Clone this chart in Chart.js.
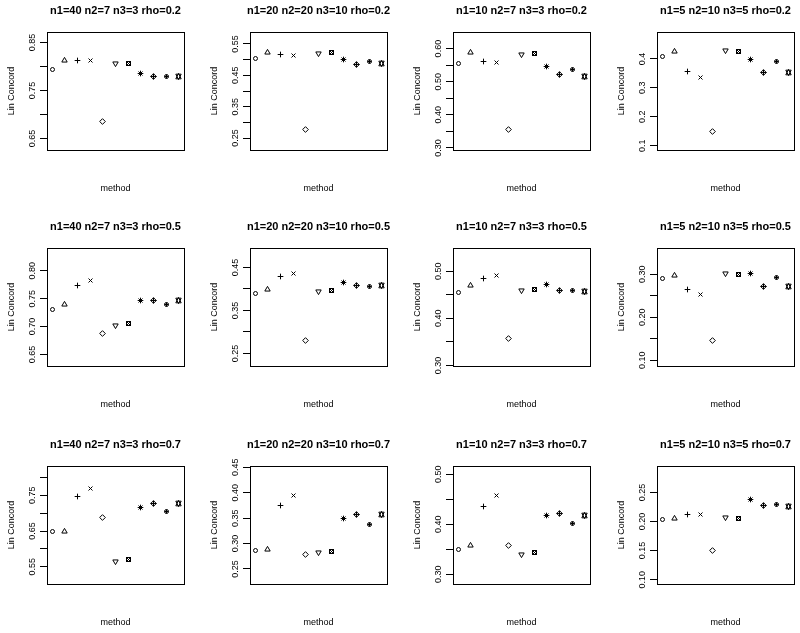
<!DOCTYPE html>
<html>
<head>
<meta charset="utf-8">
<script src="https://cdn.jsdelivr.net/npm/chart.js@4/dist/chart.umd.min.js"></script>
<style>
  body { margin: 0; background: #fff; width: 800px; height: 633px; overflow: hidden; position: relative; }
  canvas { position: absolute; }
</style>
</head>
<body>
<script>
// method index on the x axis (11 methods, no axis labels drawn)
const methods = [1, 2, 3, 4, 5, 6, 7, 8, 9, 10, 11];

const designs = ['n1=40 n2=7 n3=3', 'n1=20 n2=20 n3=10', 'n1=10 n2=7 n3=3', 'n1=5 n2=10 n3=5'];
const rhos = ['0.2', '0.5', '0.7'];

// Lin concordance per method
const n40_rho02 = [0.793, 0.813, 0.812, 0.813, 0.685, 0.806, 0.807, 0.786, 0.780, 0.780, 0.779];
const n20_rho02 = [0.503, 0.523, 0.516, 0.513, 0.276, 0.521, 0.524, 0.500, 0.484, 0.495, 0.487];
const n10_rho02 = [0.556, 0.587, 0.561, 0.558, 0.357, 0.583, 0.584, 0.545, 0.521, 0.536, 0.517];
const n5_rho02  = [0.408, 0.427, 0.358, 0.335, 0.150, 0.428, 0.427, 0.399, 0.353, 0.391, 0.354];

const n40_rho05 = [0.731, 0.740, 0.774, 0.783, 0.687, 0.701, 0.706, 0.746, 0.747, 0.739, 0.746];
const n20_rho05 = [0.390, 0.398, 0.430, 0.435, 0.281, 0.395, 0.397, 0.415, 0.409, 0.405, 0.408];
const n10_rho05 = [0.455, 0.470, 0.485, 0.490, 0.358, 0.458, 0.461, 0.471, 0.459, 0.459, 0.456];
const n5_rho05  = [0.291, 0.298, 0.264, 0.253, 0.147, 0.301, 0.300, 0.301, 0.272, 0.292, 0.272];

const n40_rho07 = [0.649, 0.649, 0.746, 0.770, 0.688, 0.564, 0.569, 0.715, 0.726, 0.704, 0.726];
const n20_rho07 = [0.286, 0.288, 0.374, 0.394, 0.279, 0.282, 0.284, 0.350, 0.358, 0.337, 0.357];
const n10_rho07 = [0.350, 0.357, 0.435, 0.458, 0.357, 0.339, 0.343, 0.417, 0.421, 0.401, 0.418];
const n5_rho07  = [0.2035, 0.205, 0.212, 0.212, 0.150, 0.2075, 0.206, 0.238, 0.228, 0.229, 0.226];

// y tick marks and their labels ('' = tick without label)
const yTicks_n40_rho02 = [0.65, 0.70, 0.75, 0.80, 0.85];
const yLabels_n40_rho02 = ['0.65', '', '0.75', '', '0.85'];
const yTicks_n20_rho02 = [0.25, 0.30, 0.35, 0.40, 0.45, 0.50, 0.55];
const yLabels_n20_rho02 = ['0.25', '', '0.35', '', '0.45', '', '0.55'];
const yTicks_n10_rho02 = [0.30, 0.35, 0.40, 0.45, 0.50, 0.55, 0.60];
const yLabels_n10_rho02 = ['0.30', '', '0.40', '', '0.50', '', '0.60'];
const yTicks_n5_rho02 = [0.1, 0.2, 0.3, 0.4];
const yLabels_n5_rho02 = ['0.1', '0.2', '0.3', '0.4'];

const yTicks_n40_rho05 = [0.65, 0.70, 0.75, 0.80];
const yLabels_n40_rho05 = ['0.65', '0.70', '0.75', '0.80'];
const yTicks_n20_rho05 = [0.25, 0.30, 0.35, 0.40, 0.45];
const yLabels_n20_rho05 = ['0.25', '', '0.35', '', '0.45'];
const yTicks_n10_rho05 = [0.30, 0.35, 0.40, 0.45, 0.50];
const yLabels_n10_rho05 = ['0.30', '', '0.40', '', '0.50'];
const yTicks_n5_rho05 = [0.10, 0.15, 0.20, 0.25, 0.30];
const yLabels_n5_rho05 = ['0.10', '', '0.20', '', '0.30'];

const yTicks_n40_rho07 = [0.55, 0.60, 0.65, 0.70, 0.75, 0.80];
const yLabels_n40_rho07 = ['0.55', '', '0.65', '', '0.75', ''];
const yTicks_n20_rho07 = [0.25, 0.30, 0.35, 0.40, 0.45];
const yLabels_n20_rho07 = ['0.25', '0.30', '0.35', '0.40', '0.45'];
const yTicks_n10_rho07 = [0.30, 0.35, 0.40, 0.45, 0.50];
const yLabels_n10_rho07 = ['0.30', '', '0.40', '', '0.50'];
const yTicks_n5_rho07 = [0.10, 0.15, 0.20, 0.25];
const yLabels_n5_rho07 = ['0.10', '0.15', '0.20', '0.25'];

const panels = [
  [n40_rho02, yTicks_n40_rho02, yLabels_n40_rho02],
  [n20_rho02, yTicks_n20_rho02, yLabels_n20_rho02],
  [n10_rho02, yTicks_n10_rho02, yLabels_n10_rho02],
  [n5_rho02, yTicks_n5_rho02, yLabels_n5_rho02],
  [n40_rho05, yTicks_n40_rho05, yLabels_n40_rho05],
  [n20_rho05, yTicks_n20_rho05, yLabels_n20_rho05],
  [n10_rho05, yTicks_n10_rho05, yLabels_n10_rho05],
  [n5_rho05, yTicks_n5_rho05, yLabels_n5_rho05],
  [n40_rho07, yTicks_n40_rho07, yLabels_n40_rho07],
  [n20_rho07, yTicks_n20_rho07, yLabels_n20_rho07],
  [n10_rho07, yTicks_n10_rho07, yLabels_n10_rho07],
  [n5_rho07, yTicks_n5_rho07, yLabels_n5_rho07]
];

const FONT = '"Liberation Sans", Arial, Helvetica, sans-serif';
const colLeft = [0, 203, 406, 610];
const rowTop = [0, 216, 434];
const W = 200, H = 211;

// R-like plotting symbols pch 1..11 as little sprites
function symbol(pch) {
  const S = 13, c = S / 2, r = 2;
  const cv = document.createElement('canvas');
  cv.width = S; cv.height = S;
  const g = cv.getContext('2d');
  g.strokeStyle = '#000';
  g.lineWidth = 1;
  const line = (x1, y1, x2, y2) => { g.beginPath(); g.moveTo(c + x1, c + y1); g.lineTo(c + x2, c + y2); g.stroke(); };
  const poly = (pts) => { g.beginPath(); pts.forEach((p, i) => i ? g.lineTo(c + p[0], c + p[1]) : g.moveTo(c + p[0], c + p[1])); g.closePath(); g.stroke(); };
  const circ = (rad) => { g.beginPath(); g.arc(c, c, rad, 0, Math.PI * 2); g.stroke(); };
  const t0 = 1.5551 * r, t1 = t0 * Math.sqrt(3) / 2, t2 = t0 / 2;
  const s2 = Math.SQRT2 * r;
  switch (pch) {
    case 1: circ(r); break;
    case 2: poly([[0, -t0], [t1, t2], [-t1, t2]]); break;
    case 3: line(-s2, 0, s2, 0); line(0, -s2, 0, s2); break;
    case 4: line(-r, -r, r, r); line(-r, r, r, -r); break;
    case 5: poly([[0, -s2], [s2, 0], [0, s2], [-s2, 0]]); break;
    case 6: poly([[0, t0], [t1, -t2], [-t1, -t2]]); break;
    case 7: g.strokeRect(c - r, c - r, 2 * r, 2 * r); line(-r, -r, r, r); line(-r, r, r, -r); break;
    case 8: line(-r, -r, r, r); line(-r, r, r, -r); line(-s2, 0, s2, 0); line(0, -s2, 0, s2); break;
    case 9: poly([[0, -s2], [s2, 0], [0, s2], [-s2, 0]]); line(-s2, 0, s2, 0); line(0, -s2, 0, s2); break;
    case 10: circ(r); line(-r, 0, r, 0); line(0, -r, 0, r); break;
    case 11: {
      const yc = 0.5 * (t2 + t0);
      poly([[0, -t0], [t1, yc], [-t1, yc]]);
      poly([[0, t0], [t1, -yc], [-t1, -yc]]);
      break;
    }
  }
  return cv;
}
const symbols = methods.map(m => symbol(m));

function frame(title, ticks, labels) {
  return {
    id: 'rframe',
    beforeDatasetsDraw(chart) {
      chart.ctx.imageSmoothingEnabled = false;
    },
    afterDatasetsDraw(chart) {
      chart.ctx.imageSmoothingEnabled = true;
    },
    afterDraw(chart) {
      const ctx = chart.ctx, a = chart.chartArea, y = chart.scales.y;
      ctx.save();
      ctx.strokeStyle = '#000';
      ctx.lineWidth = 1;
      ctx.strokeRect(Math.round(a.left) + 0.5, Math.round(a.top) + 0.5,
        Math.round(a.right - a.left), Math.round(a.bottom - a.top));
      ctx.fillStyle = '#000';
      const cx = (a.left + a.right) / 2;
      ctx.textAlign = 'center';
      ctx.textBaseline = 'alphabetic';
      ctx.font = 'bold 11px ' + FONT;
      ctx.fillText(title, cx, a.top - 18);
      ctx.font = '9px ' + FONT;
      ctx.fillText('method', cx, a.bottom + 41);
      ticks.forEach((v, i) => {
        if (!labels[i]) return;
        ctx.save();
        ctx.translate(a.left - 12, y.getPixelForValue(v));
        ctx.rotate(-Math.PI / 2);
        ctx.fillText(labels[i], 0, 0);
        ctx.restore();
      });
      ctx.save();
      ctx.translate(a.left - 33, (a.top + a.bottom) / 2);
      ctx.rotate(-Math.PI / 2);
      ctx.fillText('Lin Concord', 0, 0);
      ctx.restore();
      ctx.restore();
    }
  };
}

panels.forEach((p, k) => {
  const [vals, ticks, labels] = p;
  const row = Math.floor(k / 4), col = k % 4;
  const cv = document.createElement('canvas');
  cv.width = W; cv.height = H;
  cv.style.left = colLeft[col] + 'px';
  cv.style.top = rowTop[row] + 'px';
  document.body.appendChild(cv);

  // R default: ylim = range +/- 0.05, then 4% axis extension
  const lo = Math.min(...vals) - 0.05, hi = Math.max(...vals) + 0.05;
  const pad = 0.04 * (hi - lo);
  const title = designs[col] + ' rho=' + rhos[row];

  new Chart(cv.getContext('2d'), {
    type: 'scatter',
    data: {
      datasets: [{
        data: methods.map((m, i) => ({ x: m, y: vals[i] })),
        pointStyle: symbols,
        pointRadius: 5,
        pointHoverRadius: 5,
        showLine: false
      }]
    },
    options: {
      responsive: false,
      animation: false,
      events: [],
      layout: { padding: { left: 0, top: 32, right: 16, bottom: 61 } },
      plugins: { legend: { display: false }, tooltip: { enabled: false } },
      scales: {
        x: { type: 'linear', display: false, min: 0.6, max: 11.4 },
        y: {
          type: 'linear',
          min: lo - pad,
          max: hi + pad,
          afterFit(s) { s.width = 47; },
          afterBuildTicks(s) { s.ticks = ticks.map(v => ({ value: v })); },
          ticks: { display: false },
          grid: { drawOnChartArea: false, drawTicks: true, tickLength: 7, color: '#000' },
          border: { display: true, color: '#000' }
        }
      }
    },
    plugins: [frame(title, ticks, labels)]
  });
});
</script>
</body>
</html>
